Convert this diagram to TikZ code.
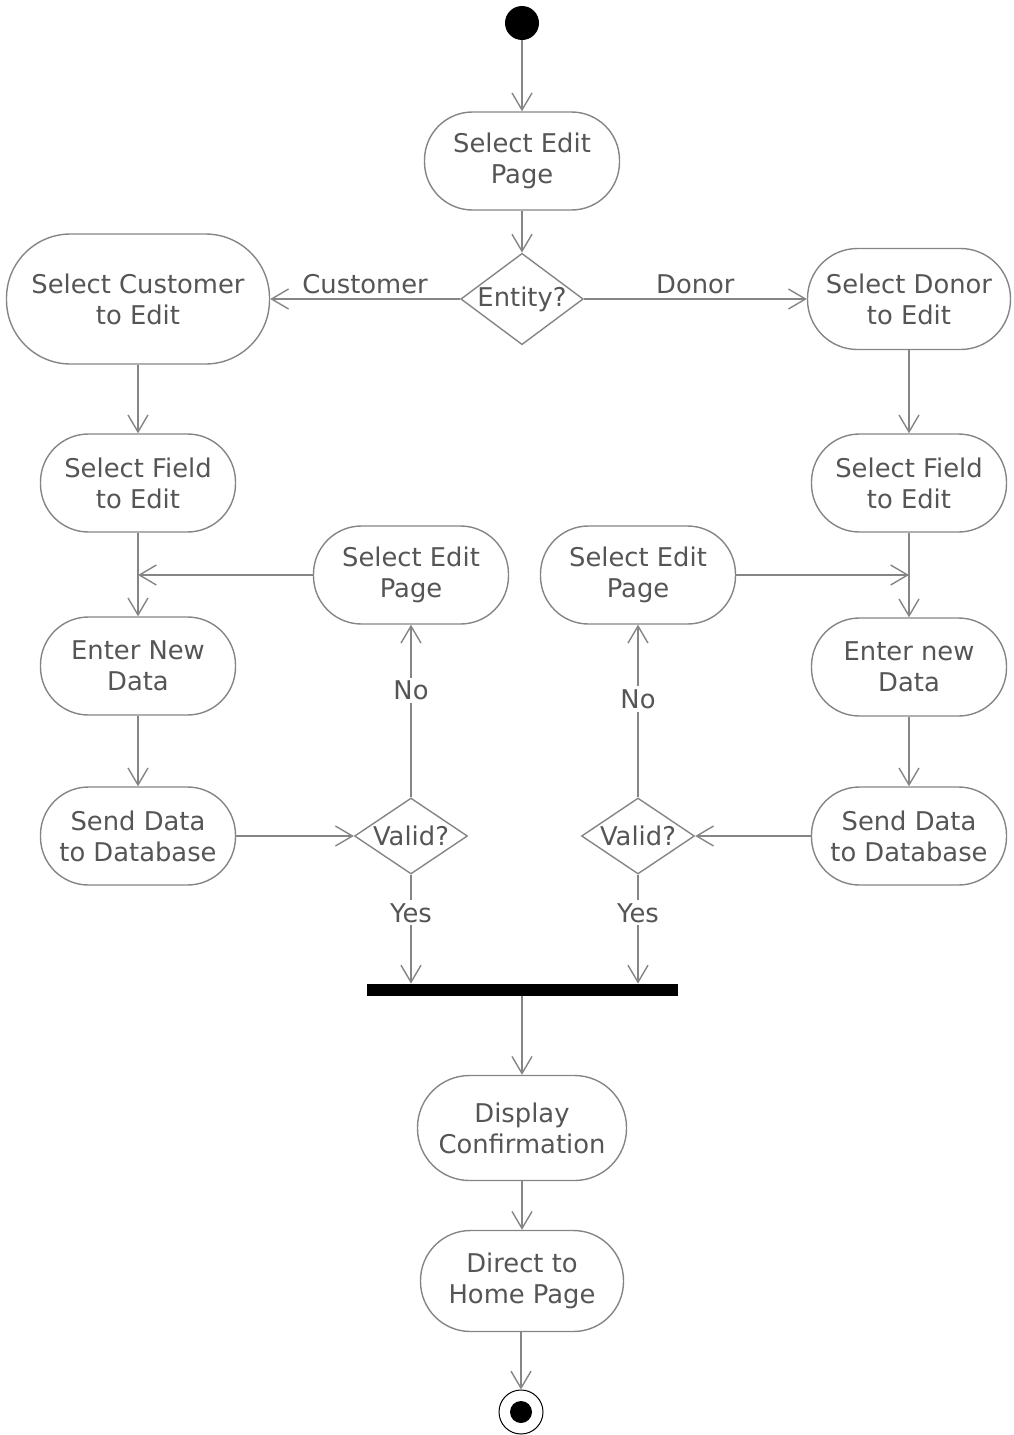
\documentclass[tikz,border=0pt]{standalone}
\usepackage{fontspec}
\setmainfont{DejaVu Sans}
\usetikzlibrary{shapes.geometric,arrows.meta}
\definecolor{linegrey}{HTML}{858585}
\definecolor{textgrey}{HTML}{555555}
\begin{document}
\begin{tikzpicture}[x=0.5pt,y=-0.5pt,
    font=\fontsize{12.9}{15.5}\selectfont, text=textgrey,
    action/.style={draw=linegrey, line width=0.7pt, rectangle, rounded corners=24pt,
      minimum width=97.5pt, minimum height=49pt, align=center, inner sep=0pt},
    decision/.style={draw=linegrey, line width=0.7pt, diamond, inner sep=0pt, align=center},
    flow/.style={draw=linegrey, line width=0.7pt, -{Straight Barb[length=8.5pt,width=10pt]}},
    guard/.style={fill=white, inner sep=1.5pt}]
    \useasboundingbox (0,0) rectangle (1013,1435);

    \node[circle, fill=black, minimum size=17pt, inner sep=0pt] (start) at (522,23) {};
    \node[action] (seledit) at (522,161) {Select Edit\\Page};
    \node[decision, minimum width=61pt, minimum height=45.5pt, shape aspect=1.34] (entity) at (522,299) {Entity?};
    \node[action, minimum width=131.5pt, minimum height=65pt, rounded corners=32pt] (selcust) at (138,299) {Select Customer\\to Edit};
    \node[action, minimum width=101.5pt, minimum height=50.5pt, rounded corners=25pt] (seldonor) at (909,299) {Select Donor\\to Edit};
    \node[action] (fieldc) at (138,483) {Select Field\\to Edit};
    \node[action] (fieldd) at (909,483) {Select Field\\to Edit};
    \node[action] (editc) at (411,575) {Select Edit\\Page};
    \node[action] (editd) at (638,575) {Select Edit\\Page};
    \node[action] (enterc) at (138,666) {Enter New\\Data};
    \node[action] (enterd) at (909,667) {Enter new\\Data};
    \node[action] (sendc) at (138,836) {Send Data\\to Database};
    \node[action] (sendd) at (909,836) {Send Data\\to Database};
    \node[decision, minimum width=56.5pt, minimum height=38pt, shape aspect=1.49] (validc) at (411,836) {Valid?};
    \node[decision, minimum width=56.5pt, minimum height=38pt, shape aspect=1.49] (validd) at (638,836) {Valid?};
    \node[fill=black, minimum width=155.5pt, minimum height=6pt, inner sep=0pt] (bar) at (522,990) {};
    \node[action, minimum width=104.5pt, minimum height=52.5pt, rounded corners=26pt] (confirm) at (522,1128) {Display\\Confirmation};
    \node[action, minimum width=101.5pt, minimum height=50.5pt, rounded corners=25pt] (home) at (522,1281) {Direct to\\Home Page};
    \node[circle, draw=black, line width=0.5pt, minimum size=22pt, inner sep=0pt] (stop) at (521,1412) {};
    \node[circle, fill=black, minimum size=11pt, inner sep=0pt] (stopdot) at (stop) {};

    \coordinate (joinc) at (fieldc |- editc);
    \coordinate (joind) at (fieldd |- editd);

    \draw[flow] (start) -- (seledit);
    \draw[flow] (seledit) -- (entity);
    \draw[flow] (entity) to node[above, inner sep=2pt] {Customer} (selcust);
    \draw[flow] (entity) to node[above, inner sep=2pt] {Donor} (seldonor);
    \draw[flow] (selcust) -- (fieldc);
    \draw[flow] (seldonor) -- (fieldd);
    \draw[flow] (fieldc) -- (enterc);
    \draw[flow] (fieldd) -- (enterd);
    \draw[flow] (editc) -- (joinc);
    \draw[flow] (editd) -- (joind);
    \draw[flow] (enterc) -- (sendc);
    \draw[flow] (enterd) -- (sendd);
    \draw[flow] (sendc) -- (validc);
    \draw[flow] (sendd) -- (validd);
    \draw[flow] (validc) -- node[guard, pos=0.62] {No} (editc);
    \draw[flow] (validd) -- node[guard, pos=0.57] {No} (editd);
    \draw[flow] (validc) -- node[guard, pos=0.35] {Yes} (validc |- bar.north);
    \draw[flow] (validd) -- node[guard, pos=0.35] {Yes} (validd |- bar.north);
    \draw[flow] (bar) -- (confirm);
    \draw[flow] (confirm) -- (home);
    \draw[flow] (home.south -| stop) -- (stop);
\end{tikzpicture}
\end{document}
